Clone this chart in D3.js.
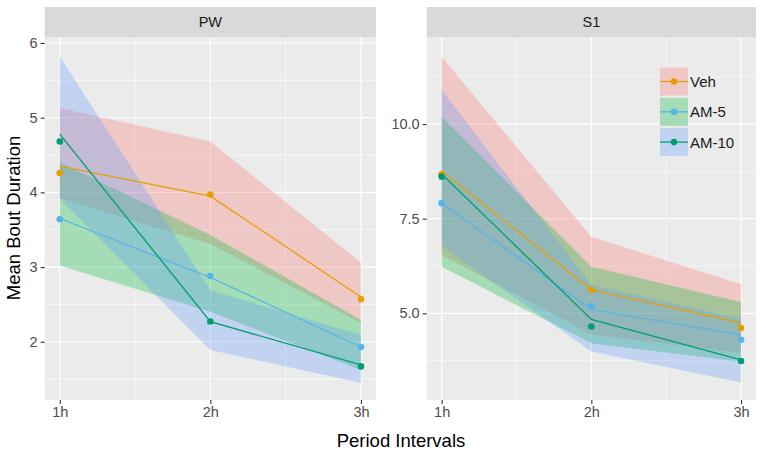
<!DOCTYPE html>
<html><head><meta charset="utf-8">
<script src="https://cdn.jsdelivr.net/npm/d3@7"></script>
<style>body{margin:0;background:#fff}svg{display:block;font-family:"Liberation Sans",Arial,sans-serif}</style>
</head><body><svg id="c" width="767" height="451"></svg>
<script>
const periods = ["1h", "2h", "3h"];
const groups = ["Veh", "AM-5", "AM-10"];
const panels = ["PW", "S1"];
const lineColors = ["#E69F00", "#56B4E9", "#009E73"];
const ribbonColors = ["#F8766D", "#00BA38", "#619CFF"];

// PW panel
const pwVehPts = [4.26, 3.97, 2.57], pwVehLine = [4.35, 3.95, 2.60];
const pwAm5Pts = [3.64, 2.88, 1.93], pwAm5Line = [3.65, 2.86, 1.93];
const pwAm10Pts = [4.68, 2.27, 1.67], pwAm10Line = [4.78, 2.27, 1.69];
const pwVehHi = [5.13, 4.68, 3.06], pwVehLo = [3.92, 3.31, 2.25];
const pwAm5Hi = [4.40, 3.43, 2.29], pwAm5Lo = [3.02, 2.40, 1.62];
const pwAm10Hi = [5.82, 2.69, 2.09], pwAm10Lo = [3.91, 1.89, 1.45];
const pwTicks = [2, 3, 4, 5, 6];
const pwMinor = [1.5, 2.5, 3.5, 4.5, 5.5];
const pwDomain = [1.22, 6.08];

// S1 panel
const s1VehPts = [8.67, 5.62, 4.61], s1VehLine = [8.76, 5.62, 4.75];
const s1Am5Pts = [7.91, 5.19, 4.30], s1Am5Line = [7.91, 5.10, 4.43];
const s1Am10Pts = [8.61, 4.65, 3.74], s1Am10Line = [8.68, 4.84, 3.77];
const s1VehHi = [11.78, 7.02, 5.77], s1VehLo = [6.54, 4.45, 3.95];
const s1Am5Hi = [10.19, 6.23, 5.30], s1Am5Lo = [6.23, 4.21, 3.72];
const s1Am10Hi = [10.90, 5.75, 4.85], s1Am10Lo = [6.78, 3.99, 3.17];
const s1Ticks = [5.0, 7.5, 10.0];
const s1Minor = [3.75, 6.25, 8.75, 11.25];
const s1Domain = [2.71, 12.30];

const panelData = [
  {name: "PW", domain: pwDomain, ticks: pwTicks, minor: pwMinor, fmt: d3.format("d"),
   series: [
    {pts: pwVehPts, line: pwVehLine, hi: pwVehHi, lo: pwVehLo},
    {pts: pwAm5Pts, line: pwAm5Line, hi: pwAm5Hi, lo: pwAm5Lo},
    {pts: pwAm10Pts, line: pwAm10Line, hi: pwAm10Hi, lo: pwAm10Lo}]},
  {name: "S1", domain: s1Domain, ticks: s1Ticks, minor: s1Minor, fmt: d3.format(".1f"),
   series: [
    {pts: s1VehPts, line: s1VehLine, hi: s1VehHi, lo: s1VehLo},
    {pts: s1Am5Pts, line: s1Am5Line, hi: s1Am5Hi, lo: s1Am5Lo},
    {pts: s1Am10Pts, line: s1Am10Line, hi: s1Am10Hi, lo: s1Am10Lo}]}
];

const svg = d3.select("#c");
const pTop = 37, pBottom = 400, stripTop = 7;
const panelX = [[44.7, 376], [426.7, 756]];

panelData.forEach((p, pi) => {
  const [x0, x1] = panelX[pi];
  const x = d3.scaleLinear().domain([0.9, 3.1]).range([x0, x1]);
  const y = d3.scaleLinear().domain(p.domain).range([pBottom, pTop]);
  const g = svg.append("g");
  g.append("rect").attr("x", x0).attr("y", stripTop).attr("width", x1 - x0).attr("height", pTop - stripTop).attr("fill", "#D9D9D9");
  g.append("text").attr("x", (x0 + x1) / 2).attr("y", (stripTop + pTop) / 2).attr("dy", "0.36em")
    .attr("text-anchor", "middle").attr("font-size", 14.5).attr("fill", "#1A1A1A").text(p.name);
  g.append("rect").attr("x", x0).attr("y", pTop).attr("width", x1 - x0).attr("height", pBottom - pTop).attr("fill", "#EBEBEB");
  [1.5, 2.5].forEach(v => g.append("line").attr("x1", x(v)).attr("x2", x(v)).attr("y1", pTop).attr("y2", pBottom).attr("stroke", "#fff").attr("stroke-width", 0.6));
  p.minor.forEach(v => g.append("line").attr("x1", x0).attr("x2", x1).attr("y1", y(v)).attr("y2", y(v)).attr("stroke", "#fff").attr("stroke-width", 0.6));
  [1, 2, 3].forEach(v => g.append("line").attr("x1", x(v)).attr("x2", x(v)).attr("y1", pTop).attr("y2", pBottom).attr("stroke", "#fff").attr("stroke-width", 1.2));
  p.ticks.forEach(v => g.append("line").attr("x1", x0).attr("x2", x1).attr("y1", y(v)).attr("y2", y(v)).attr("stroke", "#fff").attr("stroke-width", 1.2));

  const area = d3.area().x((d, i) => x(i + 1)).y0(d => y(d[0])).y1(d => y(d[1]));
  p.series.forEach((s, si) => {
    const data = s.lo.map((v, i) => [v, s.hi[i]]);
    g.append("path").attr("d", area(data)).attr("fill", ribbonColors[si]).attr("fill-opacity", 0.3);
  });
  const line = d3.line().x((d, i) => x(i + 1)).y(d => y(d));
  p.series.forEach((s, si) => {
    g.append("path").attr("d", line(s.line)).attr("fill", "none").attr("stroke", lineColors[si]).attr("stroke-width", 1.3);
  });
  p.series.forEach((s, si) => {
    g.selectAll(null).data(s.pts).enter().append("circle")
      .attr("cx", (d, i) => x(i + 1)).attr("cy", d => y(d)).attr("r", 3.3).attr("fill", lineColors[si]);
  });

  const xAxis = d3.axisBottom(x).tickValues([1, 2, 3]).tickFormat((d, i) => periods[i]).tickSize(4).tickPadding(3);
  const gx = g.append("g").attr("transform", `translate(0,${pBottom})`).call(xAxis);
  gx.select(".domain").remove();
  gx.selectAll("line").attr("stroke", "#333").attr("stroke-width", 1.1);
  gx.selectAll("text").attr("font-size", 14.5).attr("fill", "#4D4D4D").attr("font-family", "Liberation Sans, Arial, sans-serif");
  const yAxis = d3.axisLeft(y).tickValues(p.ticks).tickFormat(p.fmt).tickSize(4).tickPadding(3);
  const gy = g.append("g").attr("transform", `translate(${x0},0)`).call(yAxis);
  gy.select(".domain").remove();
  gy.selectAll("line").attr("stroke", "#333").attr("stroke-width", 1.1);
  gy.selectAll("text").attr("font-size", 14.5).attr("fill", "#4D4D4D").attr("font-family", "Liberation Sans, Arial, sans-serif");
});

svg.append("text").attr("x", 401).attr("y", 447).attr("text-anchor", "middle").attr("font-size", 18.5).attr("fill", "#000").text("Period Intervals");
svg.append("text").attr("transform", "translate(20,218) rotate(-90)").attr("text-anchor", "middle").attr("font-size", 18.5).attr("fill", "#000").text("Mean Bout Duration");

const lg = svg.append("g");
groups.forEach((gname, i) => {
  const ky = 67.5 + i * 30.3;
  lg.append("rect").attr("x", 660).attr("y", ky).attr("width", 28).attr("height", 28).attr("fill", "#EBEBEB");
  lg.append("rect").attr("x", 660).attr("y", ky).attr("width", 28).attr("height", 28).attr("fill", ribbonColors[i]).attr("fill-opacity", 0.3);
  lg.append("line").attr("x1", 660).attr("x2", 688).attr("y1", ky + 14).attr("y2", ky + 14).attr("stroke", lineColors[i]).attr("stroke-width", 1.3);
  lg.append("circle").attr("cx", 674).attr("cy", ky + 14).attr("r", 3.3).attr("fill", lineColors[i]);
  lg.append("text").attr("x", 690).attr("y", ky + 14).attr("dy", "0.36em").attr("font-size", 15).attr("fill", "#1A1A1A").text(gname);
});
</script></body></html>
